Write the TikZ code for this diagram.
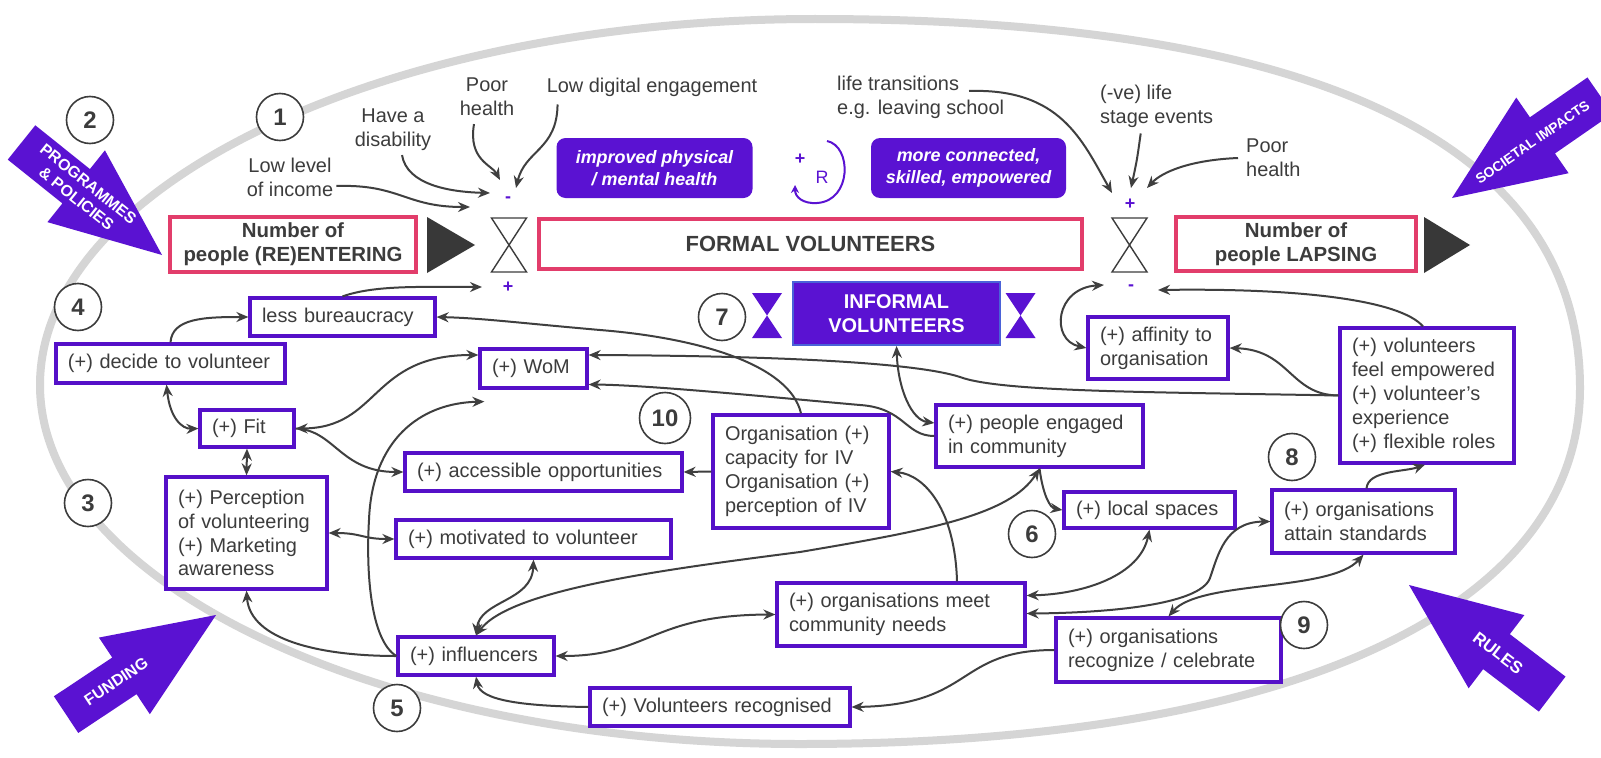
\documentclass[tikz,border=0pt]{standalone}
\usepackage{fontspec}
\setmainfont{Liberation Sans}
\usetikzlibrary{arrows.meta}

\definecolor{vpurple}{HTML}{5A12D2}
\definecolor{boxline}{HTML}{5510C8}
\definecolor{stockpink}{HTML}{E23D6B}
\definecolor{infoline}{HTML}{4A62D8}
\definecolor{ink}{HTML}{3C3C3C}
\definecolor{linkc}{HTML}{3F3F3F}
\definecolor{rim}{HTML}{D5D5D5}
\definecolor{flowtri}{HTML}{383838}

\tikzset{
  tipa/.tip={Stealth[length=12bp,width=10bp]},
  vbox/.style={draw=boxline, line width=3.2bp, fill=white, text=ink,
    font=\fontsize{20}{24}\selectfont, align=left, inner xsep=12bp, inner ysep=0pt},
  stock/.style={draw=stockpink, line width=3.5bp, fill=white, text=ink,
    font=\bfseries\fontsize{20.5}{24}\selectfont, align=center, inner sep=0pt},
  effect/.style={fill=vpurple, rounded corners=9bp, text=white,
    font=\bfseries\itshape\fontsize{18}{22}\selectfont, align=center, inner sep=0pt},
  infobox/.style={fill=vpurple, draw=infoline, line width=2bp, text=white,
    font=\bfseries\fontsize{20}{24}\selectfont, align=center, inner sep=0pt},
  toplbl/.style={text=ink, font=\fontsize{20}{24}\selectfont, inner sep=0pt},
  numc/.style={circle, draw=ink, fill=white, line width=1.6bp, minimum size=47bp,
    inner sep=0pt, text=ink, font=\bfseries\fontsize{24}{28}\selectfont},
  sign/.style={text=vpurple, font=\bfseries\fontsize{18}{20}\selectfont, inner sep=1pt},
  valvebox/.style={inner sep=0pt, outer sep=0pt, minimum width=35bp, minimum height=54bp},
  hgbox/.style={inner sep=0pt, outer sep=0pt, minimum width=30bp, minimum height=45bp},
  tribox/.style={inner sep=0pt, outer sep=0pt, minimum width=48bp, minimum height=56bp},
  arrowtext/.style={text=white, align=center, inner sep=0pt},
  link/.style={draw=linkc, line width=2bp, arrows={-tipa}},
  dlink/.style={draw=linkc, line width=2bp, arrows={tipa-tipa}},
}

% box given by its corners: name, x1, y1, x2, y2, text
\newcommand\vbx[6]{%
  \pgfmathsetmacro\bxw{#4-#2}%
  \pgfmathsetmacro\bxh{#5-#3}%
  \pgfmathsetmacro\bxt{#4-#2-24}%
  \pgfmathsetmacro\bxcx{(#2+#4)/2}%
  \pgfmathsetmacro\bxcy{(#3+#5)/2}%
  \node[vbox, text width=\bxt bp, minimum width=\bxw bp, minimum height=\bxh bp]
    (#1) at (\bxcx,\bxcy) {#6};}

% big block arrow: tip, pointing angle, text angle, text, font size, text distance from tip
\newcommand\policyarrow[6]{%
  \begin{scope}[shift={(#1)}, rotate=#2]
    \fill[vpurple] (0,0) -- (-110,-46) -- (-110,-22) -- (-180,-22)
      -- (-180,22) -- (-110,22) -- (-110,46) -- cycle;
    \node[arrowtext, rotate=#3, font=\bfseries\fontsize{#5}{19}\selectfont]
      at (-#6,0) {#4};
  \end{scope}}

\begin{document}
\begin{tikzpicture}[x=1bp, y=-1bp]
\useasboundingbox (0,0) rectangle (1601,758);
\fill[white] (0,0) rectangle (1601,758);
\clip (0,0) rectangle (1601,758);

% system boundary
\draw[rim, line width=8bp] (40,385) .. controls (40,184) and (387,19) .. (815,19)
  .. controls (1320,19) and (1580,145) .. (1580,388)
  .. controls (1580,610) and (1290,744) .. (800,744)
  .. controls (380,744) and (40,583) .. cycle;

% external drivers
\policyarrow{162,255}{-38.7}{-38.7}{PROGRAMMES\\\& POLICIES}{16}{102}
\policyarrow{1452,198}{214.7}{34.7}{SOCIETAL IMPACTS}{14}{98}
\policyarrow{216,615}{33.6}{33.6}{FUNDING}{16}{120}
\policyarrow{1409,585}{142.7}{-37.3}{RULES}{17}{112}

% stock and flows
\node[stock, minimum width=246bp, minimum height=55bp] (ent) at (293,244.5)
  {Number of\\people (RE)ENTERING};
\node[stock, font=\bfseries\fontsize{22}{26}\selectfont, minimum width=543bp,
  minimum height=50bp] (formal) at (810.5,244) {FORMAL VOLUNTEERS};
\node[stock, minimum width=240bp, minimum height=54bp] (lapse) at (1296,244)
  {Number of\\people LAPSING};

\node[tribox] (triL) at (451,245) {};
\node[tribox, minimum width=46bp] (triR) at (1447,245) {};
\fill[flowtri] (triL.north west) -- (triL.east) -- (triL.south west) -- cycle;
\fill[flowtri] (triR.north west) -- (triR.east) -- (triR.south west) -- cycle;

\node[valvebox] (valL) at (509,245) {};
\node[valvebox] (valR) at (1129.5,245) {};
\draw[ink, line width=1.4bp, line join=miter]
  (valL.north west) -- (valL.north east) -- (valL.south west) -- (valL.south east) -- cycle;
\draw[ink, line width=1.4bp, line join=miter]
  (valR.north west) -- (valR.north east) -- (valR.south west) -- (valR.south east) -- cycle;

\node[sign] (sgLt) at (508,200) {-};
\node[sign] (sgLb) at (508,287) {+};
\node[sign] (sgRt) at (1130,204) {+};
\node[sign] (sgRb) at (1131,288) {-};

% effects of volunteering and the reinforcing loop
\node[effect, minimum width=196bp, minimum height=60bp] (health) at (654.5,168)
  {improved physical\\/ mental health};
\node[effect, minimum width=195bp, minimum height=60bp] (conn) at (968.5,168)
  {more connected,\\skilled, empowered};
\draw[vpurple, line width=2bp, arrows={-Stealth[length=8bp,width=8bp]}]
  (827,141) .. controls (852,146) and (852,201) .. (817,203)
  .. controls (803,204) and (795,197) .. (795,185);
\node[text=vpurple, font=\bfseries\fontsize{18}{20}\selectfont, inner sep=0pt] (lpplus) at (800,159) {+};
\node[text=vpurple, font=\fontsize{18}{20}\selectfont, inner sep=0pt] (lpR) at (822,177) {R};

% outside influences on the flows
\node[toplbl, align=center] (income) at (290,177) {Low level\\of income};
\node[toplbl, align=center] (disab) at (393,130) {Have a\\disability};
\node[toplbl, align=center] (poorL) at (487,97) {Poor\\health};
\node[toplbl] (digital) at (652,87) {Low digital engagement};
\node[toplbl, align=left, anchor=west] (lifeT) at (837,97) {life transitions\\e.g. leaving school};
\node[toplbl, align=left, anchor=west] (negLife) at (1100,106) {(-ve) life\\stage events};
\node[toplbl, align=left, anchor=west] (poorR) at (1246,158) {Poor\\health};

% informal volunteering
\node[infobox, minimum width=207bp, minimum height=63bp] (informal) at (896.5,313.5)
  {INFORMAL\\VOLUNTEERS};
\node[hgbox] (hgL) at (767,315.5) {};
\node[hgbox] (hgR) at (1020.5,315.5) {};
\fill[vpurple] (hgL.north west) -- (hgL.north east) -- (hgL.south west) -- (hgL.south east) -- cycle;
\fill[vpurple] (hgR.north west) -- (hgR.north east) -- (hgR.south west) -- (hgR.south east) -- cycle;

% factors
\vbx{bur}{250}{298}{435}{336}{less bureaucracy}
\vbx{dec}{56}{344}{285}{383}{(+) decide to volunteer}
\vbx{fit}{200}{410}{294}{447}{(+) Fit}
\vbx{perc}{166}{477}{327}{589}{(+) Perception\\of volunteering\\(+) Marketing\\awareness}
\vbx{wom}{480}{349}{587}{388}{(+) WoM}
\vbx{acc}{405}{453}{682}{491}{(+) accessible opportunities}
\vbx{mot}{396}{520}{671}{558}{(+) motivated to volunteer}
\vbx{inf}{398}{637}{554}{675}{(+) influencers}
\vbx{vrec}{590}{688}{850}{726}{(+) Volunteers recognised}
\vbx{meet}{777}{583}{1025}{646}{(+) organisations meet\\community needs}
\vbx{org}{713}{415}{889}{528}{Organisation (+)\\capacity for IV\\Organisation (+)\\perception of IV}
\vbx{peng}{936}{405}{1143}{467}{(+) people engaged\\in community}
\vbx{loc}{1064}{492}{1235}{528}{(+) local spaces}
\vbx{aff}{1088}{317}{1228}{379}{(+) affinity to\\organisation}
\vbx{emp}{1340}{328}{1514}{463}{(+) volunteers\\feel empowered\\(+) volunteer's\\experience\\(+) flexible roles}
\vbx{att}{1272}{490}{1455}{553}{(+) organisations\\attain standards}
\vbx{celeb}{1056}{618}{1281}{682}{(+) organisations\\recognize / celebrate}

% numbered markers
\node[numc] (n1) at (280,117) {1};
\node[numc] (n2) at (90,120) {2};
\node[numc] (n3) at (88,503) {3};
\node[numc] (n4) at (78,307) {4};
\node[numc] (n5) at (397,708) {5};
\node[numc] (n6) at (1032,534) {6};
\node[numc] (n7) at (722,317) {7};
\node[numc] (n8) at (1292,457) {8};
\node[numc] (n9) at (1304,625) {9};
\node[numc, minimum size=51bp] (n10) at (665,418) {10};

% influences on the inflow and outflow
\draw[link] ([xshift=3bp,yshift=-9bp]income.east) .. controls (400,184) and (405,207) .. ([xshift=-38bp,yshift=-7bp]sgLt.center);
\draw[link] ([xshift=9bp,yshift=-4bp]disab.south) .. controls (407,185) and (450,192) .. ([xshift=-18bp,yshift=7bp]sgLt.center);
\draw[link] ([xshift=-13bp,yshift=-8bp]poorL.south) .. controls (468,160) and (492,165) .. ([xshift=-8bp,yshift=20bp]sgLt.center);
\draw[link] ([xshift=11bp,yshift=-8bp]digital.south west) .. controls (557,150) and (525,150) .. ([xshift=8bp,yshift=12bp]sgLt.center);
\draw[link] ([xshift=132bp,yshift=6bp]lifeT.west) .. controls (1060,88) and (1082,140) .. ([xshift=-18bp,yshift=11bp]sgRt.center);
\draw[link] ([xshift=-16bp,yshift=-6bp]negLife.south) .. controls (1137,160) .. ([xshift=1bp,yshift=16bp]sgRt.center);
\draw[link] ([xshift=-8bp]poorR.west) .. controls (1190,160) and (1162,172) .. ([xshift=17bp,yshift=16bp]sgRt.center);
\draw[link] (bur.north) .. controls (375,285) and (420,287) .. ([xshift=-26bp]sgLb.center);
\draw[link] ([xshift=-4bp]emp.north) .. controls (1400,300) and (1300,288) .. ([xshift=27bp,yshift=-2bp]sgRb.center);
\draw[dlink] (aff.west) .. controls (1050,340) and (1055,288) .. ([xshift=-27bp,yshift=3bp]sgRb.center);

% relations between the factors
\draw[link] (dec.north) .. controls (172,318) and (205,317) .. (bur.west);
\draw[dlink] ([xshift=-4bp]dec.south) .. controls (170,418) and (182,429) .. (fit.west);
\draw[dlink] (fit.south) -- (perc.north);
\draw[dlink] (fit.east) .. controls (380,428) and (370,355) .. ([yshift=13.5bp]wom.west);
\draw[link] (fit.east) .. controls (335,430) and (340,472) .. (acc.west);
\draw[dlink] (perc.east) .. controls (362,533) and (362,539) .. (mot.west);
\draw[link] (inf.west) .. controls (370,640) and (366,570) .. (369,520)
  .. controls (372,440) and (420,403) .. ([xshift=6bp,yshift=-12bp]wom.south west);
\draw[link] (inf.west) .. controls (320,656) and (250,640) .. (perc.south);
\draw[dlink] (inf.north) .. controls (480,600) and (532,602) .. (mot.south);
\draw[dlink] (inf.north) .. controls (510,590) and (660,570) .. (800,552)
  .. controls (930,530) and (1010,515) .. (peng.south);
\draw[link] (peng.south) .. controls (1043,495) and (1050,508) .. (loc.west);
\draw[dlink] (inf.east) .. controls (650,656) and (650,615) .. (meet.west);
\draw[link] (vrec.west) .. controls (520,706) and (480,700) .. (inf.south);
\draw[link] (celeb.west) .. controls (955,650) and (975,705) .. (vrec.east);
\draw[link] ([xshift=56bp]meet.north) .. controls (955,510) and (925,475) .. (org.east);
\draw[dlink] (loc.south) .. controls (1140,575) and (1085,594) .. ([yshift=19bp]meet.east);
\draw[dlink] (att.west) .. controls (1225,522) and (1218,555) .. (1210,578)
  .. controls (1200,606) and (1100,613) .. ([yshift=1bp]meet.east);
\draw[dlink] (att.south) .. controls (1330,592) and (1200,580) .. (celeb.north);
\draw[link] (org.west) -- (acc.east);
\draw[link] (org.north) .. controls (790,365) and (700,338) .. (600,330)
  .. controls (520,323) and (480,318) .. (bur.east);
\draw[link] (emp.west) .. controls (1150,392) and (1000,392) .. (960,377)
  .. controls (920,364) and (800,356) .. ([yshift=13.5bp]wom.east);
\draw[link] (peng.west) .. controls (905,436) and (905,408) .. (860,405)
  .. controls (780,398) and (650,385) .. ([yshift=-16bp]wom.east);
\draw[dlink] (informal.south) .. controls (898,390) and (912,420) .. ([yshift=13bp]peng.west);
\draw[link] (emp.west) .. controls (1290,395) and (1290,350) .. (aff.east);
\draw[link] ([xshift=3bp]att.north) .. controls (1368,470) and (1405,472) .. ([xshift=-2bp]emp.south);
\end{tikzpicture}
\end{document}
